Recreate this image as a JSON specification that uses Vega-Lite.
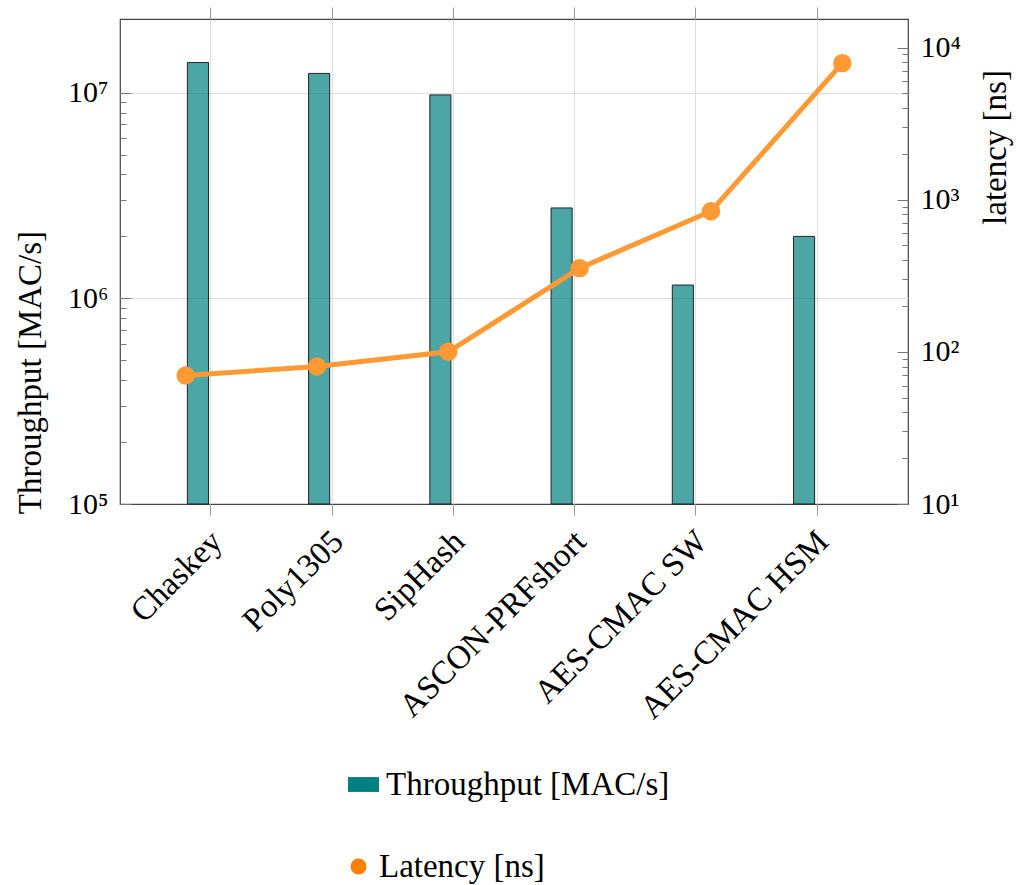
{
  "$schema": "https://vega.github.io/schema/vega-lite/v6.json",
  "width": 788,
  "height": 485,
  "autosize": {"type": "none"},
  "padding": {"left": 120, "top": 19, "right": 114, "bottom": 381},
  "background": "white",
  "config": {
    "font": "Liberation Serif",
    "view": {"stroke": "#444", "strokeWidth": 1.2},
    "axis": {
      "labelFont": "Liberation Serif",
      "titleFont": "Liberation Serif",
      "labelFontSize": 30,
      "titleFontSize": 33,
      "labelColor": "#000",
      "titleColor": "#000",
      "titleFontWeight": "normal",
      "domain": false,
      "labelLimit": 500
    },
    "legend": {"labelFont": "Liberation Serif", "labelFontSize": 33, "labelColor": "#000", "labelLimit": 500}
  },
  "data": {
    "values": [
      {"cat": "Chaskey", "throughput": 14000000, "latency": 70},
      {"cat": "Poly1305", "throughput": 12400000, "latency": 80},
      {"cat": "SipHash", "throughput": 9750000, "latency": 100},
      {"cat": "ASCON-PRFshort", "throughput": 2750000, "latency": 355},
      {"cat": "AES-CMAC SW", "throughput": 1160000, "latency": 840},
      {"cat": "AES-CMAC HSM", "throughput": 2000000, "latency": 7900}
    ]
  },
  "layer": [
    {
      "mark": {"type": "bar", "width": {"band": 0.174}, "xOffset": -13},
      "encoding": {
        "x": {
          "field": "cat", "type": "nominal", "sort": null,
          "scale": {"type": "band", "paddingInner": 0, "paddingOuter": 0.25},
          "axis": {
            "title": null, "orient": "bottom", "labelAngle": -45, "labelAlign": "right", "labelBaseline": "middle",
            "labelFontSize": 33, "labelOffset": 6,
            "tickSize": 11, "tickColor": "#999", "labelPadding": 21, "grid": true, "gridColor": "#ddd"
          }
        },
        "y": {
          "field": "throughput", "type": "quantitative",
          "scale": {"type": "log", "domain": [100000, 22800000], "nice": false},
          "axis": {
            "title": "Throughput [MAC/s]", "orient": "left",
            "values": [100000, 200000, 300000, 400000, 500000, 600000, 700000, 800000, 900000, 1000000, 2000000, 3000000, 4000000, 5000000, 6000000, 7000000, 8000000, 9000000, 10000000],
            "labelExpr": "datum.value == 100000 ? '10⁵' : datum.value == 1000000 ? '10⁶' : datum.value == 10000000 ? '10⁷' : ''",
            "tickSize": {"condition": {"test": "indexof([100000, 1000000, 10000000], datum.value) >= 0", "value": -11}, "value": -6},
            "tickColor": "#777",
            "labelPadding": 23,
            "labelOverlap": false,
            "labelFlush": false,
            "grid": true,
            "gridColor": "#ddd",
            "gridOpacity": {"condition": {"test": "indexof([1000000, 10000000], datum.value) >= 0", "value": 1}, "value": 0},
            "titleX": -90, "titleY": 353, "titleAngle": -90, "titleAlign": "center", "titleBaseline": "middle"
          }
        },
        "y2": {"datum": 100000},
        "fill": {
          "datum": "Throughput [MAC/s]", "type": "nominal",
          "scale": {"range": ["#008080"]},
          "legend": {
            "title": null, "orient": "none", "legendX": 227, "legendY": 749, "padding": 0,
            "symbolType": "M-1,-0.48H1V0.48H-1Z", "symbolSize": 961, "labelOffset": 6,
            "symbolStrokeWidth": 0, "symbolOpacity": 1
          }
        },
        "fillOpacity": {"value": 0.7},
        "stroke": {"value": "#222"},
        "strokeWidth": {"value": 1}
      }
    },
    {
      "mark": {"type": "rule", "opacity": 0},
      "encoding": {
        "x": {
          "field": "cat", "type": "nominal", "sort": null,
          "scale": {"type": "band", "paddingInner": 0, "paddingOuter": 0.25},
          "axis": {"title": null, "orient": "top", "labels": false, "tickSize": 12, "tickColor": "#999", "grid": false}
        }
      }
    },
    {
      "encoding": {
        "x": {
          "field": "cat", "type": "nominal", "sort": null,
          "scale": {"type": "point", "padding": 0.5},
          "axis": null
        },
        "y": {
          "field": "latency", "type": "quantitative",
          "scale": {"type": "log", "domain": [10, 15400], "nice": false},
          "axis": {
            "title": "latency [ns]", "orient": "right",
            "values": [10, 20, 30, 40, 50, 60, 70, 80, 90, 100, 200, 300, 400, 500, 600, 700, 800, 900, 1000, 2000, 3000, 4000, 5000, 6000, 7000, 8000, 9000, 10000],
            "labelExpr": "datum.value == 10 ? '10¹' : datum.value == 100 ? '10²' : datum.value == 1000 ? '10³' : datum.value == 10000 ? '10⁴' : ''",
            "tickSize": {"condition": {"test": "indexof([10, 100, 1000, 10000], datum.value) >= 0", "value": -11}, "value": -6},
            "tickColor": "#777",
            "labelPadding": 23,
            "labelOverlap": false,
            "labelFlush": false,
            "grid": false,
            "titleX": 87, "titleY": 128, "titleAngle": -90, "titleAlign": "center", "titleBaseline": "middle"
          }
        }
      },
      "layer": [
        {"mark": {"type": "line", "strokeWidth": 5}, "encoding": {"stroke": {"value": "#ff9933"}}},
        {
          "mark": {"type": "point", "filled": true, "size": 340, "opacity": 1},
          "encoding": {"fill": {"value": "#ff9933"}}
        },
        {
          "mark": {"type": "point", "filled": true, "size": 340},
          "encoding": {
            "color": {
              "datum": "Latency [ns]", "type": "nominal",
              "scale": {"range": ["#ff8000"]},
              "legend": {
                "title": null, "orient": "none", "legendX": 222, "legendY": 831, "padding": 0,
                "symbolType": "circle", "symbolSize": 254, "labelOffset": 4, "symbolStrokeWidth": 0, "symbolOpacity": 1
              }
            },
            "fillOpacity": {"value": 0}
          }
        }
      ]
    }
  ],
  "resolve": {
    "scale": {"x": "independent", "y": "independent", "fill": "independent", "color": "independent"},
    "axis": {"x": "independent", "y": "independent"}
  }
}
